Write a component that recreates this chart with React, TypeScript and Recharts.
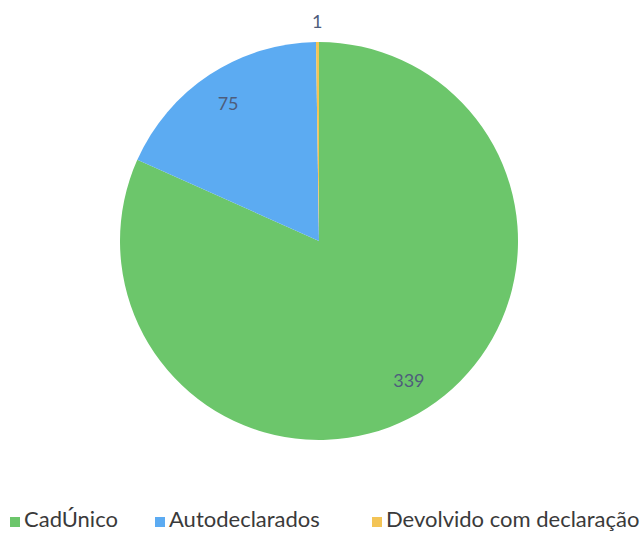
import { Cell, Legend, Pie, PieChart } from "recharts";

const categories = ["CadÚnico", "Autodeclarados", "Devolvido com declaração"];
const counts = [339, 75, 1];
const colors = ["#6cc66b", "#5cabf2", "#f3c456"];

const data = categories.map((name, i) => ({ name, count: counts[i] }));

const RADIAN = Math.PI / 180;

// Excel-style labels: inside for big slices, just outside for tiny ones
const renderLabel = (props: any) => {
  const { cx, cy, midAngle, outerRadius, percent, value } = props;
  const r = percent < 0.02 ? outerRadius + 21 : outerRadius * 0.83;
  const x = cx + r * Math.cos(-midAngle * RADIAN);
  const y = cy + r * Math.sin(-midAngle * RADIAN);
  return (
    <text
      x={x}
      y={y}
      fill="#4e5d7c"
      fontSize={18}
      fontFamily="Lato, 'Open Sans', sans-serif"
      textAnchor="middle"
      dominantBaseline="central"
    >
      {value}
    </text>
  );
};

// legend item x positions (square left edge)
const legendLeft = [10, 155, 372];

const renderLegend = () => (
  <div style={{ position: "relative", height: 30, fontFamily: "Lato, 'Open Sans', sans-serif", fontSize: 22, color: "#3a3a3a" }}>
    {categories.map((name, i) => (
      <div key={name} style={{ position: "absolute", left: legendLeft[i], top: 0, display: "flex", alignItems: "center", whiteSpace: "nowrap" }}>
        <span style={{ display: "inline-block", width: 10, height: 10, background: colors[i], marginRight: 4, marginTop: 6 }} />
        <span>{name}</span>
      </div>
    ))}
  </div>
);

export default function App() {
  return (
    <div style={{ position: "absolute", left: 0, top: 0, background: "#ffffff" }}>
      <PieChart width={643} height={533} margin={{ top: 0, right: 0, bottom: 0, left: 0 }}>
        <Pie
          data={data}
          dataKey="count"
          nameKey="name"
          cx={319}
          cy={241}
          outerRadius={199}
          startAngle={90}
          endAngle={-270}
          stroke="none"
          label={renderLabel}
          labelLine={false}
          isAnimationActive={false}
        >
          {data.map((_, i) => (
            <Cell key={`cell-${i}`} fill={colors[i]} />
          ))}
        </Pie>
        <Legend
          content={renderLegend}
          wrapperStyle={{ position: "absolute", left: 0, top: 505, width: 643 }}
        />
      </PieChart>
    </div>
  );
}
